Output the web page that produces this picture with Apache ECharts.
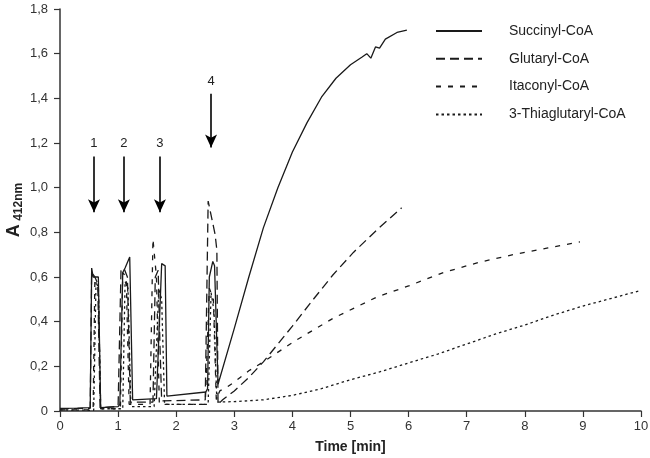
<!DOCTYPE html>
<html>
<head>
<meta charset="utf-8">
<script src="https://cdn.jsdelivr.net/npm/echarts@6/dist/echarts.min.js"></script>
<style>html,body{margin:0;padding:0;background:#fff}#c{width:650px;height:458px}</style>
</head>
<body>
<div id="c"></div>
<script>
// ---- data (time [min], A412nm) ----
var seriesNames = ['Succinyl-CoA', 'Glutaryl-CoA', 'Itaconyl-CoA', '3-Thiaglutaryl-CoA'];
var succinyl = [[0,0.012],[0.3,0.013],[0.52,0.015],[0.545,0.64],[0.57,0.6],[0.66,0.6],[0.70,0.015],[1.0,0.02],[1.03,0.03],[1.08,0.62],[1.12,0.64],[1.2,0.69],[1.25,0.05],[1.66,0.055],[1.69,0.06],[1.75,0.66],[1.81,0.65],[1.84,0.067],[2.51,0.085],[2.54,0.1],[2.57,0.6],[2.63,0.67],[2.66,0.65],[2.72,0.12],[3.0,0.37],[3.25,0.6],[3.5,0.82],[3.75,1.0],[4.0,1.16],[4.25,1.29],[4.5,1.405],[4.75,1.49],[5.0,1.55],[5.2,1.585],[5.28,1.60],[5.35,1.58],[5.43,1.63],[5.5,1.625],[5.6,1.665],[5.8,1.695],[5.97,1.705]];
var glutaryl = [[0,0.01],[0.52,0.012],[0.545,0.62],[0.6,0.6],[0.65,0.57],[0.69,0.015],[1.0,0.02],[1.05,0.63],[1.1,0.64],[1.16,0.6],[1.21,0.04],[1.6,0.04],[1.64,0.6],[1.69,0.63],[1.72,0.3],[1.75,0.045],[2.5,0.05],[2.55,0.94],[2.67,0.79],[2.70,0.72],[2.72,0.03],[2.8,0.05],[3.0,0.09],[3.25,0.15],[3.5,0.22],[3.75,0.30],[4.0,0.38],[4.36,0.50],[4.7,0.61],[5.05,0.71],[5.45,0.81],[5.88,0.91]];
var itaconyl = [[0,0.005],[0.57,0.005],[0.6,0.58],[0.66,0.56],[0.7,0.01],[1.04,0.01],[1.08,0.62],[1.14,0.6],[1.19,0.03],[1.55,0.03],[1.6,0.77],[1.66,0.6],[1.71,0.03],[2.5,0.03],[2.57,0.55],[2.64,0.5],[2.69,0.05],[2.75,0.09],[2.87,0.106],[3.0,0.13],[3.25,0.18],[3.5,0.22],[4.02,0.31],[4.7,0.415],[5.45,0.51],[6.0,0.56],[6.6,0.62],[7.2,0.665],[7.8,0.70],[8.4,0.73],[8.95,0.757]];
var thiaglutaryl = [[0,0.005],[0.58,0.003],[0.62,0.58],[0.66,0.55],[0.7,0.01],[1.08,0.01],[1.12,0.58],[1.17,0.55],[1.22,0.02],[1.62,0.02],[1.7,0.55],[1.75,0.5],[1.8,0.03],[2.55,0.03],[2.6,0.53],[2.65,0.45],[2.7,0.04],[3.0,0.042],[3.5,0.05],[4.0,0.07],[4.5,0.10],[5.0,0.14],[5.5,0.175],[6.0,0.215],[6.5,0.255],[7.0,0.30],[7.5,0.345],[8.0,0.385],[8.5,0.43],[9.0,0.47],[9.5,0.505],[10.0,0.54]];
// injection arrows
var arrowLabels = ['1', '2', '3', '4'];
var arrowX = [0.585, 1.1, 1.72, 2.6];
var arrowTop = [1.14, 1.14, 1.14, 1.42];
var arrowTip = [0.89, 0.89, 0.89, 1.18];

var lineColor = '#1a1a1a';
var dashes = ['solid', [9, 5], [5, 7], [2.5, 3]];
var allData = [succinyl, glutaryl, itaconyl, thiaglutaryl];

var series = allData.map(function (d, i) {
  return {
    name: seriesNames[i], type: 'line', data: d, symbol: 'none',
    lineStyle: { color: lineColor, width: 1.3, type: dashes[i] },
    itemStyle: { color: lineColor },
    animation: false, silent: true
  };
});
series[0].markLine = {
  silent: true, animation: false, symbol: ['none', 'arrow'], symbolSize: [9, 13],
  lineStyle: { color: '#000', width: 1.6, type: 'solid' },
  label: { show: true, position: 'start', formatter: '{b}', color: '#222', fontSize: 13, distance: 6, fontFamily: 'Liberation Sans' },
  data: arrowLabels.map(function (l, i) {
    return [{ name: l, coord: [arrowX[i], arrowTop[i]] }, { coord: [arrowX[i], arrowTip[i]] }];
  })
};

var chart = echarts.init(document.getElementById('c'), null, { renderer: 'canvas' });
chart.setOption({
  animation: false,
  backgroundColor: '#fff',
  textStyle: { fontFamily: 'Liberation Sans' },
  grid: { left: 60, right: 9, top: 9, bottom: 47, containLabel: false, outerBoundsMode: 'none' },
  legend: {
    orient: 'vertical', left: 435, top: 24, padding: 0, itemWidth: 46, itemHeight: 14, itemGap: 13.8,
    itemStyle: { color: 'rgba(0,0,0,0)', borderColor: 'rgba(0,0,0,0)', borderWidth: 0, opacity: 0 },
    textStyle: { fontSize: 14, color: '#222', padding: [0, 0, 0, 22] },
    data: seriesNames
  },
  xAxis: {
    type: 'value', min: 0, max: 10, interval: 1,
    name: 'Time [min]', nameLocation: 'middle', nameGap: 29, nameMoveOverlap: false,
    nameTextStyle: { fontSize: 14, fontWeight: 'bold', color: '#222' },
    axisLine: { lineStyle: { color: '#333', width: 1.5 } },
    axisTick: { length: 6, lineStyle: { color: '#333', width: 1.2 } },
    axisLabel: { fontSize: 13, color: '#333', margin: 9 },
    splitLine: { show: false }
  },
  yAxis: {
    type: 'value', min: 0, max: 1.8, interval: 0.2,
    name: '{a|A} {s|412nm}', nameLocation: 'middle', nameGap: 35, nameRotate: 90, nameMoveOverlap: false,
    nameTextStyle: {
      rich: {
        a: { fontSize: 18, fontWeight: 'bold', color: '#222', lineHeight: 22, verticalAlign: 'middle' },
        s: { fontSize: 12, fontWeight: 'bold', color: '#222', lineHeight: 12, verticalAlign: 'bottom' }
      }
    },
    axisLine: { show: true, lineStyle: { color: '#333', width: 1.5 } },
    axisTick: { show: true, length: 6, lineStyle: { color: '#333', width: 1.2 } },
    axisLabel: { fontSize: 13, color: '#333', margin: 12,
      formatter: function (v) { return v === 0 ? '0' : v.toFixed(1).replace('.', ','); } },
    splitLine: { show: false }
  },
  series: series
});
</script>
</body>
</html>
